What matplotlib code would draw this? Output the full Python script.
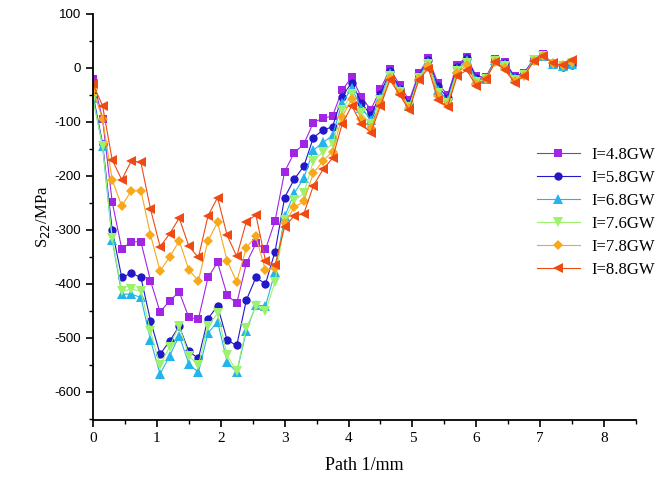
import matplotlib

matplotlib.use("Agg")
import matplotlib.pyplot as plt
import numpy as np
from matplotlib.ticker import MultipleLocator

# path positions along the probe line (mm)
path_mm = np.arange(51) * 0.15

labels = ["I=4.8GW", "I=5.8GW", "I=6.8GW", "I=7.6GW", "I=7.8GW", "I=8.8GW"]

s22_48 = [-20, -95, -248, -335, -322, -322, -394, -452, -431, -415, -462, -465, -388, -360, -421, -436,
          -362, -325, -336, -283, -192, -157, -141, -101, -93, -89, -41, -17, -54, -77, -39, -2, -31,
          -60, -10, 18, -28, -50, 6, 20, -15, -17, 16, 11, -15, -9, 17, 25, 8, 3, 6]
s22_58 = [-50, -140, -300, -388, -380, -388, -468, -530, -506, -478, -525, -538, -464, -441, -504, -514,
          -430, -388, -400, -340, -240, -206, -182, -129, -115, -109, -53, -27, -64, -88, -48, -6, -38,
          -66, -14, 14, -34, -55, 2, 18, -18, -19, 15, 9, -17, -11, 16, 24, 7, 2, 5]
s22_68 = [-55, -145, -318, -419, -419, -425, -504, -567, -533, -496, -548, -564, -491, -470, -544, -564,
          -487, -439, -441, -377, -275, -232, -204, -152, -138, -125, -65, -37, -74, -96, -55, -10, -41,
          -70, -16, 11, -40, -60, -2, 14, -22, -20, 14, 7, -19, -12, 15, 23, 8, 3, 7]
s22_76 = [-58, -144, -315, -413, -410, -413, -488, -551, -516, -477, -533, -551, -478, -454, -532, -562,
          -482, -441, -451, -396, -282, -245, -232, -172, -155, -140, -78, -48, -84, -104, -60, -14, -44,
          -72, -18, 8, -46, -64, -6, 10, -26, -20, 13, 3, -22, -13, 14, 23, 8, 4, 10]
s22_78 = [-40, -95, -207, -256, -227, -227, -309, -376, -350, -320, -374, -394, -320, -286, -357, -396,
          -333, -312, -375, -371, -288, -258, -247, -195, -172, -155, -90, -58, -94, -112, -65, -18, -47,
          -75, -20, 4, -52, -68, -10, 6, -30, -21, 12, 0, -25, -14, 13, 22, 9, 5, 12]
s22_88 = [-30, -70, -170, -207, -172, -175, -261, -331, -307, -278, -330, -351, -274, -240, -310, -349,
          -285, -272, -357, -365, -294, -274, -270, -218, -188, -167, -104, -70, -104, -120, -70, -22, -50,
          -78, -22, -1, -59, -72, -15, -4, -33, -21, 12, -4, -27, -15, 13, 22, 9, 5, 15]

series = [s22_48, s22_58, s22_68, s22_76, s22_78, s22_88]
colors = ["#a225e6", "#2318c8", "#22b4ea", "#9cf26a", "#f7a81b", "#ee4a14"]
markers = ["s", "o", "^", "v", "D", "<"]
msizes = [5.5, 6, 6.5, 6.5, 5.5, 7]

fig = plt.figure(figsize=(6.71, 4.86), dpi=100)
ax = fig.add_axes([0.1386, 0.1358, 0.8092, 0.8354])

for vals, lab, col, mk, ms in zip(series, labels, colors, markers, msizes):
    ax.plot(path_mm, vals, color=col, linewidth=0.8, marker=mk, markersize=ms,
            markeredgewidth=0, label=lab)

ax.set_xlim(0, 8.5)
ax.set_ylim(-652, 100)
ax.xaxis.set_major_locator(MultipleLocator(1))
ax.xaxis.set_minor_locator(MultipleLocator(0.5))
ax.yaxis.set_major_locator(MultipleLocator(100))
ax.yaxis.set_minor_locator(MultipleLocator(50))

for side in ("top", "right"):
    ax.spines[side].set_visible(False)
for side in ("left", "bottom"):
    ax.spines[side].set_linewidth(1.3)
ax.tick_params(which="major", direction="out", length=5, width=1.2)
ax.tick_params(which="minor", direction="out", length=3, width=1.0)

for t in ax.get_xticklabels():
    t.set_fontfamily("Liberation Serif")
    t.set_fontsize(11)
ax.set_yticks(np.arange(-600, 101, 100))
ax.set_yticklabels([str(v) for v in np.arange(-600, 101, 100)], fontfamily="Liberation Sans", fontsize=9.5)

ax.set_xlabel("Path 1/mm", fontfamily="Liberation Serif", fontsize=13, labelpad=9)
ax.set_ylabel("S$_{22}$/MPa", fontfamily="Liberation Serif", fontsize=12, labelpad=2)

leg = ax.legend(loc="upper left", bbox_to_anchor=(0.805, 0.69), frameon=False,
                prop={"family": "Liberation Serif", "size": 12}, handlelength=2.6,
                labelspacing=0.42, handletextpad=0.7, borderaxespad=0)

fig.savefig("out.png", dpi=100)
